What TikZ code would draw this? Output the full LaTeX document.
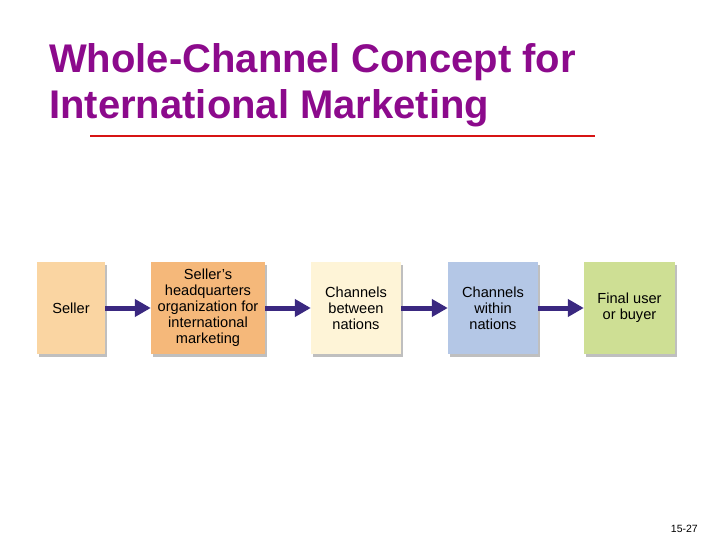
\documentclass[tikz,border=0pt]{standalone}
\usepackage{fontspec}
\setmainfont{Liberation Sans}
\usetikzlibrary{arrows.meta,shadows}
\definecolor{titlepurple}{RGB}{140,10,140}
\definecolor{rulered}{RGB}{215,20,20}
\definecolor{arrowblue}{RGB}{58,40,128}
\definecolor{cseller}{RGB}{250,213,162}
\definecolor{chq}{RGB}{245,184,122}
\definecolor{cbetween}{RGB}{254,244,215}
\definecolor{cwithin}{RGB}{180,199,230}
\definecolor{cfinal}{RGB}{206,223,148}
\tikzset{
  stagebox/.style={minimum height=92pt, inner sep=2pt, align=center,
    font=\fontsize{14.6}{16}\selectfont,
    drop shadow={shadow xshift=2pt, shadow yshift=-3pt, fill=black, opacity=0.25}},
  flow/.style={draw=arrowblue, line width=5pt,
    -{Triangle[length=16pt,width=17pt]}},
  titletext/.style={anchor=base west, inner sep=0pt, text=titlepurple,
    font=\fontsize{40}{46}\selectfont\bfseries}
}
\begin{document}
\begin{tikzpicture}[x=1pt,y=-1pt]
\useasboundingbox[fill=white] (0,0) rectangle (720,540);
\node[titletext] (title1) at (49,73) {Whole-Channel Concept for};
\node[titletext] (title2) at (49,119) {International Marketing};
\coordinate (ruleA) at (90,136);
\coordinate (ruleB) at (595,136);
\draw[rulered, line width=2pt] (ruleA) -- (ruleB);

\node[stagebox, fill=cseller, minimum width=68pt] (seller) at (71,308) {Seller};
\node[stagebox, fill=chq, minimum width=114pt] (hq) at (208,308) {Seller’s\\headquarters\\organization for\\international\\marketing};
\node[stagebox, fill=cbetween, minimum width=90pt] (between) at (356,308) {Channels\\between\\nations};
\node[stagebox, fill=cwithin, minimum width=90pt] (within) at (493,308) {Channels\\within\\nations};
\node[stagebox, fill=cfinal, minimum width=91pt] (final) at (629.5,308) {Final user\\or buyer};

\draw[flow] (seller.east) -- (hq.west);
\draw[flow] (hq.east) -- (between.west);
\draw[flow] (between.east) -- (within.west);
\draw[flow] (within.east) -- (final.west);

\node[anchor=base east, inner sep=0pt, font=\fontsize{10.5}{12}\selectfont] (pagenum) at (698,532) {15-27};
\end{tikzpicture}
\end{document}
